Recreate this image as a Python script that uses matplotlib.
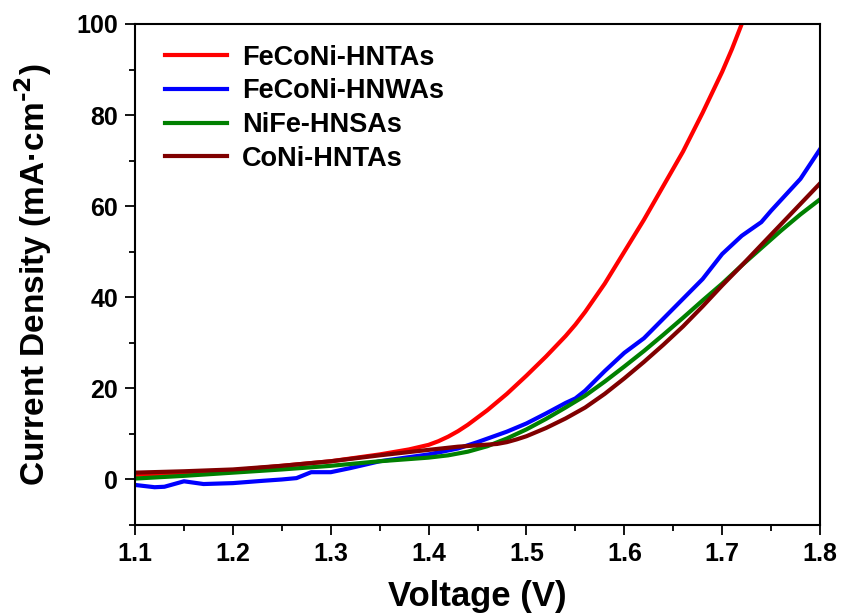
import matplotlib
matplotlib.use('Agg')
import matplotlib.pyplot as plt
from matplotlib.ticker import MultipleLocator

plt.rcParams['font.family'] = ['Liberation Sans', 'DejaVu Sans']
plt.rcParams['font.weight'] = 'bold'
plt.rcParams['axes.unicode_minus'] = False
plt.rcParams['mathtext.default'] = 'bf'

# FeCoNi-HNTAs
v_red = [1.10, 1.15, 1.20, 1.25, 1.30, 1.35, 1.38, 1.40, 1.41, 1.42, 1.43, 1.44, 1.45, 1.46, 1.47, 1.48,
         1.49, 1.50, 1.52, 1.54, 1.55, 1.56, 1.58, 1.60, 1.62, 1.64, 1.66, 1.68, 1.70, 1.71, 1.72]
j_red = [1.0, 1.4, 2.0, 3.0, 4.0, 5.5, 6.6, 7.6, 8.4, 9.4, 10.6, 12.0, 13.6, 15.2, 17.0, 18.8,
         20.8, 22.8, 27.0, 31.5, 34.0, 36.8, 43.0, 50.0, 57.0, 64.5, 72.0, 80.5, 89.5, 94.5, 100.0]

# FeCoNi-HNWAs
v_blue = [1.10, 1.12, 1.13, 1.15, 1.17, 1.20, 1.23, 1.25, 1.265, 1.28, 1.30, 1.32, 1.35, 1.40, 1.43,
          1.45, 1.48, 1.50, 1.52, 1.54, 1.55, 1.56, 1.58, 1.60, 1.62, 1.65, 1.68, 1.70, 1.72, 1.74,
          1.75, 1.78, 1.80]
j_blue = [-1.2, -1.7, -1.6, -0.4, -1.0, -0.8, -0.3, 0.0, 0.3, 1.6, 1.6, 2.5, 4.0, 5.5, 6.8,
          8.2, 10.5, 12.3, 14.5, 16.8, 17.8, 19.5, 23.8, 27.8, 31.0, 37.5, 44.0, 49.5, 53.5, 56.5,
          59.0, 66.0, 72.5]

# NiFe-HNSAs
v_green = [1.10, 1.15, 1.20, 1.25, 1.30, 1.35, 1.40, 1.42, 1.44, 1.46, 1.48, 1.50, 1.52, 1.54, 1.56,
           1.58, 1.60, 1.62, 1.64, 1.66, 1.68, 1.70, 1.72, 1.74, 1.76, 1.78, 1.80]
j_green = [0.2, 0.8, 1.5, 2.2, 3.0, 4.0, 4.8, 5.3, 6.1, 7.3, 9.0, 11.0, 13.3, 15.8, 18.4,
           21.5, 24.8, 28.2, 31.8, 35.5, 39.3, 43.0, 47.0, 50.8, 54.6, 58.2, 61.5]

# CoNi-HNTAs
v_dred = [1.10, 1.15, 1.20, 1.25, 1.30, 1.35, 1.40, 1.43, 1.45, 1.47, 1.48, 1.49, 1.50, 1.52, 1.54,
          1.56, 1.58, 1.60, 1.62, 1.64, 1.66, 1.68, 1.70, 1.72, 1.74, 1.76, 1.78, 1.80]
j_dred = [1.5, 1.8, 2.2, 3.0, 4.0, 5.3, 6.5, 7.2, 7.5, 7.8, 8.2, 8.8, 9.5, 11.3, 13.4,
          15.8, 18.8, 22.2, 25.8, 29.6, 33.6, 38.0, 42.6, 47.0, 51.5, 56.0, 60.5, 65.0]

fig = plt.figure(figsize=(8.44, 6.15), dpi=100)
ax = fig.add_axes([0.16, 0.1463, 0.8116, 0.8147])

lw = 3.0
ax.plot(v_red, j_red, color='#ff0000', lw=lw, label='FeCoNi-HNTAs')
ax.plot(v_blue, j_blue, color='#0000ff', lw=lw, label='FeCoNi-HNWAs')
ax.plot(v_green, j_green, color='#008000', lw=lw, label='NiFe-HNSAs')
ax.plot(v_dred, j_dred, color='#800000', lw=lw, label='CoNi-HNTAs')

ax.set_xlim(1.1, 1.8)
ax.set_ylim(-10, 100)
ax.xaxis.set_major_locator(MultipleLocator(0.1))
ax.xaxis.set_minor_locator(MultipleLocator(0.05))
ax.yaxis.set_major_locator(MultipleLocator(20))
ax.yaxis.set_minor_locator(MultipleLocator(10))
ax.tick_params(which='major', direction='out', length=7, width=1.3, labelsize=18, pad=5,
               top=False, right=False)
ax.tick_params(which='minor', direction='out', length=4, width=1.3, top=False, right=False)
for s in ax.spines.values():
    s.set_linewidth(1.5)

ax.set_xlabel('Voltage (V)', fontsize=25, fontweight='bold', labelpad=10)
ax.set_ylabel('Current Density (mA\u00b7cm$^{\\text{-2}}$)', fontsize=24, fontweight='bold', labelpad=16)

ax.legend(loc='upper left', frameon=False, fontsize=19.5, handlelength=2.3,
          handletextpad=0.55, labelspacing=0.28, borderaxespad=0, borderpad=0.4,
          bbox_to_anchor=(0.028, 0.98))

fig.savefig('out.png', dpi=100)
